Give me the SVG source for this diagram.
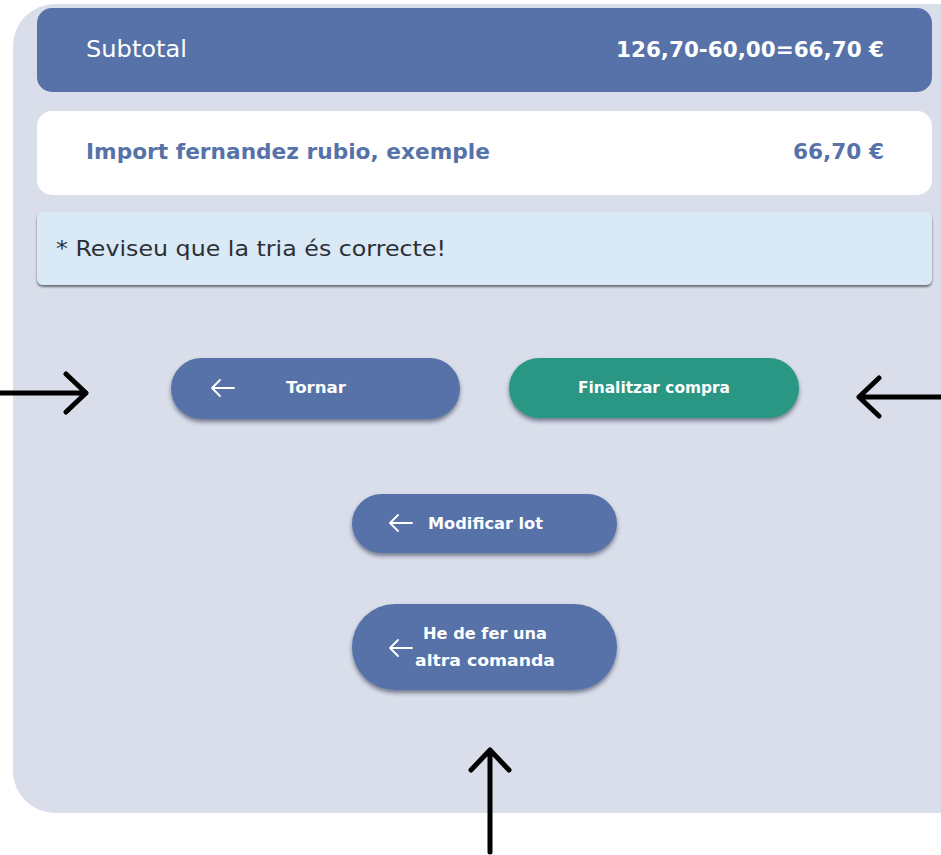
<svg xmlns="http://www.w3.org/2000/svg" width="941" height="855" viewBox="0 0 941 855">
<defs>
<style>
.t{font-family:"DejaVu Sans","Noto Sans",sans-serif}
.btn{fill:#5672a8}
.btnt{fill:#ffffff;font-size:16.5px;font-weight:700}
.arr{stroke:#000;stroke-width:5;fill:none;stroke-linecap:round;stroke-linejoin:round}
.sarr{stroke:#fff;stroke-width:1.8;fill:none;stroke-linecap:round;stroke-linejoin:round}
</style>
<filter id="sh" x="-10%" y="-20%" width="120%" height="160%">
<feDropShadow dx="0" dy="3" stdDeviation="2" flood-color="#1e2a44" flood-opacity="0.55"/>
</filter>
<filter id="sh2" x="-5%" y="-20%" width="110%" height="150%">
<feDropShadow dx="0" dy="2" stdDeviation="0.8" flood-color="#4a4f5a" flood-opacity="0.8"/>
</filter>
</defs>
<rect width="941" height="855" fill="#ffffff"/>
<rect id="panel" x="13" y="4" width="968" height="809" rx="42" fill="#dadeea"/>
<g id="subtotal">
<rect x="37" y="8" width="895" height="84" rx="15" fill="#5672a8"/>
<text class="t" x="86" y="56.5" font-size="23.5" fill="#ffffff" textLength="101" lengthAdjust="spacingAndGlyphs">Subtotal</text>
<text class="t" x="616" y="56.5" font-size="21" font-weight="700" fill="#ffffff" textLength="268" lengthAdjust="spacingAndGlyphs">126,70-60,00=66,70 €</text>
</g>
<g id="import">
<rect x="37" y="111" width="895" height="84" rx="15" fill="#ffffff"/>
<text class="t" x="86" y="158.5" font-size="21.5" font-weight="700" fill="#5672a8" textLength="404" lengthAdjust="spacingAndGlyphs">Import fernandez rubio, exemple</text>
<text class="t" x="793" y="158.5" font-size="21.5" font-weight="700" fill="#5672a8" textLength="91" lengthAdjust="spacingAndGlyphs">66,70 €</text>
</g>
<g id="avis">
<rect x="37" y="212" width="895" height="73" rx="6" fill="#d9eaf6" filter="url(#sh2)"/>
<text class="t" x="56" y="255.5" font-size="21" fill="#2d2f36" textLength="390" lengthAdjust="spacingAndGlyphs">* Reviseu que la tria és correcte!</text>
</g>
<g id="tornar">
<rect x="171" y="358" width="289" height="61" rx="30.5" class="btn" filter="url(#sh)"/>
<path class="sarr" d="M234 388 H212 M220 380 L212 388 L220 396"/>
<text class="t btnt" x="286" y="393" textLength="60" lengthAdjust="spacingAndGlyphs">Tornar</text>
</g>
<g id="finalitzar">
<rect x="509" y="358" width="290" height="60" rx="30" fill="#2a9785" filter="url(#sh)"/>
<text class="t btnt" x="578" y="393" textLength="152" lengthAdjust="spacingAndGlyphs">Finalitzar compra</text>
</g>
<g id="modificar">
<rect x="352" y="494" width="265" height="59" rx="29.5" class="btn" filter="url(#sh)"/>
<path class="sarr" d="M412 523 H390 M398 515 L390 523 L398 531"/>
<text class="t btnt" x="428" y="529" textLength="115" lengthAdjust="spacingAndGlyphs">Modificar lot</text>
</g>
<g id="altra">
<rect x="352" y="604" width="265" height="86" rx="43" class="btn" filter="url(#sh)"/>
<path class="sarr" d="M412 648 H390 M398 640 L390 648 L398 656"/>
<text class="t btnt" x="423" y="639" textLength="124" lengthAdjust="spacingAndGlyphs">He de fer una</text>
<text class="t btnt" x="415" y="666" textLength="140" lengthAdjust="spacingAndGlyphs">altra comanda</text>
</g>
<g id="connectors">
<path class="arr" d="M0 393 H86 M66 374 L86 393 L66 412"/>
<path class="arr" d="M941 397 H859 M879 378 L859 397 L879 416"/>
<path class="arr" d="M490 852 V750 M471 770 L490 750 L509 770"/>
</g>
</svg>
